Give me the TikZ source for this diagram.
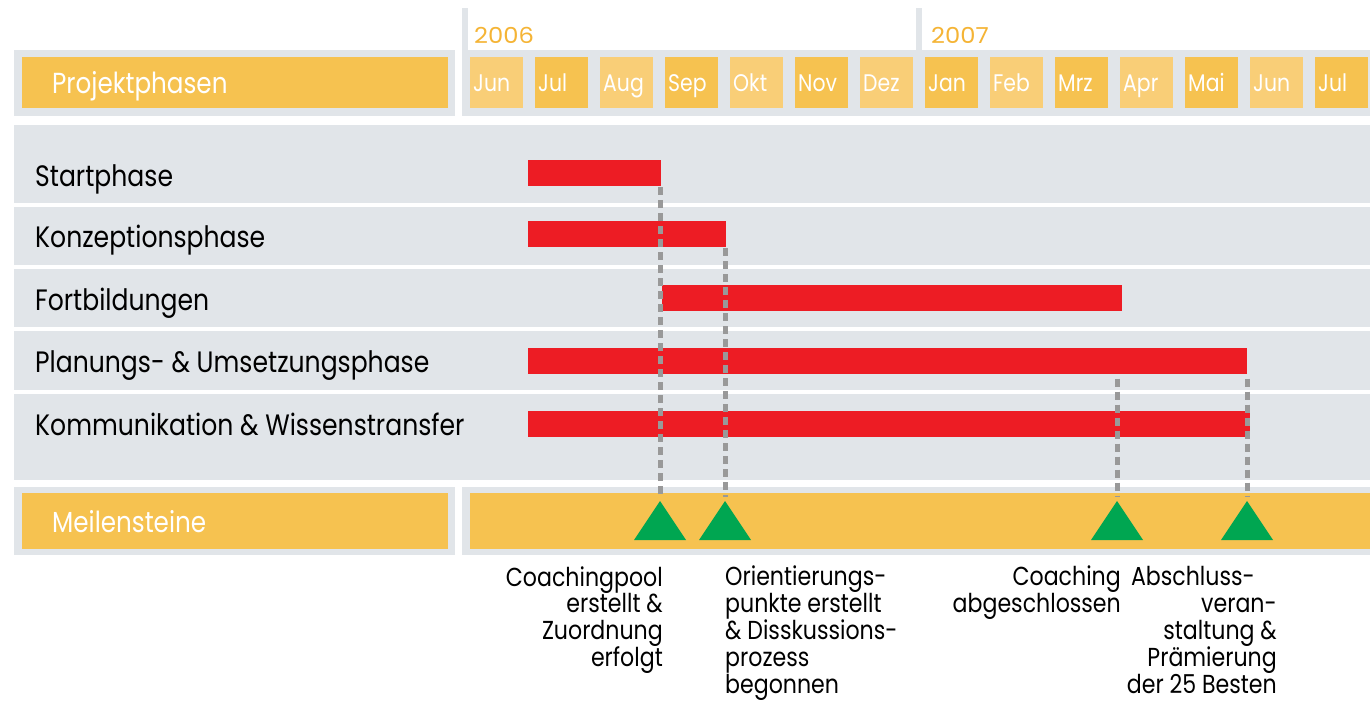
\documentclass[tikz,border=0pt]{standalone}
\usepackage{fontspec}
\setmainfont{Poppins}[FakeStretch=0.85]
\newfontfamily\msfont{Poppins}[FakeStretch=0.85]
\newfontfamily\yearfont{Poppins}[FakeStretch=1.1]
\definecolor{orD}{HTML}{F6C250}
\definecolor{orL}{HTML}{F9CE77}
\definecolor{framegray}{HTML}{E1E5E9}
\definecolor{barred}{HTML}{ED1C24}
\definecolor{msgreen}{HTML}{00A651}
\definecolor{dashgray}{HTML}{999999}
\definecolor{yearor}{HTML}{F5B435}
\tikzset{
  frm/.style={fill=framegray},
  monthtxt/.style={text=white, font=\fontsize{24}{26}\selectfont, anchor=base west, inner sep=0pt},
  headtxt/.style={text=white, font=\fontsize{29}{32}\selectfont, anchor=base west, inner sep=0pt},
  yeartxt/.style={text=yearor, font=\yearfont\fontsize{22}{24}\selectfont, anchor=base west, inner sep=0pt},
  rowlabel/.style={anchor=base west, font=\fontsize{29.5}{32}\selectfont, inner sep=0pt},
  ganttbar/.style={fill=barred, draw=none, inner sep=0pt, minimum height=26pt},
  msline/.style={draw=dashgray, line width=5pt, dash pattern=on 8pt off 5pt},
  mstri/.style={fill=msgreen},
  mslabel/.style={font=\msfont\fontsize{26}{27}\selectfont, inner sep=0pt},
}
\begin{document}
\begin{tikzpicture}[x=1pt,y=-1pt]
\useasboundingbox[fill=white] (0,0) rectangle (1370,705);
% header frames
\fill[frm] (14,50) rectangle (455,116);
\fill[frm] (462,50) rectangle (1370,116);
\fill[frm] (462,8) rectangle (468,50);
\fill[frm] (916,8) rectangle (922,50);
\fill[orD] (22,57) rectangle (448,108);
\node[headtxt] (hp) at (52,93) {Projektphasen};
\node[yeartxt] (y6) at (474,43) {2006};
\node[yeartxt] (y7) at (931,43) {2007};
% month cells
\foreach \m [count=\i from 0] in {Jun,Jul,Aug,Sep,Okt,Nov,Dez,Jan,Feb,Mrz,Apr,Mai,Jun,Jul}{
  \pgfmathsetmacro{\xl}{470+65*\i}
  \pgfmathtruncatemacro{\parity}{mod(\i,2)}
  \ifnum\parity=0 \def\cc{orL}\else\def\cc{orD}\fi
  \fill[\cc] (\xl,57) rectangle ++(53,51);
  \node[monthtxt] (mo\i) at (\xl+3,91) {\m};
}
% main panel
\fill[frm] (14,125) rectangle (1370,480);
\foreach \yy in {205,267,329,392}{
  \fill[white] (14,\yy-2) rectangle (1370,\yy+2);
}
% row labels
\node[rowlabel] (l1) at (35,186) {Startphase};
\node[rowlabel] (l2) at (35,247) {Konzeptionsphase};
\node[rowlabel] (l3) at (35,310) {Fortbildungen};
\node[rowlabel] (l4) at (35,372) {Planungs- \& Umsetzungsphase};
\node[rowlabel] (l5) at (35,435) {Kommunikation \& Wissenstransfer};
% bars
\node[ganttbar, minimum width=133pt, anchor=west] (b1) at (528,173) {};
\node[ganttbar, minimum width=198pt, anchor=west] (b2) at (528,234) {};
\node[ganttbar, minimum width=460pt, anchor=west] (b3) at (662,297.5) {};
\node[ganttbar, minimum width=719pt, anchor=west] (b4) at (528,360.5) {};
\node[ganttbar, minimum width=722pt, anchor=west] (b5) at (528,423.5) {};
% milestone row
\fill[frm] (14,487) rectangle (455,555);
\fill[frm] (462,487) rectangle (1370,555);
\fill[orD] (22,493) rectangle (448,549);
\fill[orD] (470,493) rectangle (1370,549);
\node[headtxt] (hm) at (52,532) {Meilensteine};
% milestone apexes
\coordinate (m1) at (660,501);
\coordinate (m2) at (725,501);
\coordinate (m3) at (1117,501);
\coordinate (m4) at (1247,501);
% dashed lines
\draw[msline] ([yshift=-1pt]m1 |- b1.south) -- ([yshift=4pt]m1);
\draw[msline] ([yshift=-1pt]m2 |- b2.south) -- ([yshift=4pt]m2);
\draw[msline] ([yshift=-5pt]m3 |- b4.south) -- ([yshift=4pt]m3);
\draw[msline] ([yshift=-5pt]m4 |- b4.south) -- ([yshift=4pt]m4);
% triangles
\foreach \c in {m1,m2,m3,m4}{
  \fill[mstri] (\c) -- ++(-26,39) -- ++(52,0) -- cycle;
}
% milestone labels
\node[mslabel, align=right, anchor=north east] (t1) at (663,566) {Coachingpool\\erstellt \&\\Zuordnung\\erfolgt};
\node[mslabel, align=left, anchor=north west] (t2) at (725,566) {Orientierungs-\\punkte erstellt\\\& Disskussions-\\prozess\\begonnen};
\node[mslabel, align=right, anchor=north east] (t3) at (1121,566) {Coaching\\abgeschlossen};
\node[mslabel, align=right, anchor=north east] (t4) at (1277,566) {Abschluss-\hspace*{22pt}\\veran-\\staltung \&\\Prämierung\\der 25 Besten};
\end{tikzpicture}
\end{document}
